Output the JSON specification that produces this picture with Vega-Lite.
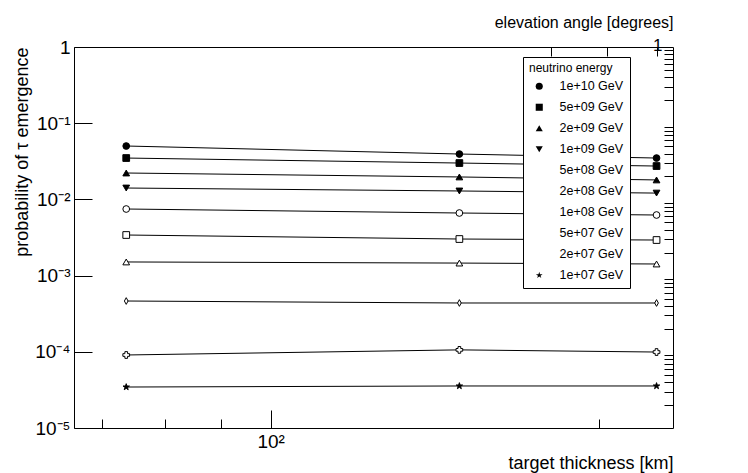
{
  "$schema": "https://vega.github.io/schema/vega-lite/v6.json",
  "width": 599,
  "height": 381,
  "autosize": {"type": "none"},
  "padding": {"left": 74, "top": 47, "right": 75, "bottom": 45},
  "background": "white",
  "config": {
    "font": "Liberation Sans",
    "view": {"stroke": "black", "strokeWidth": 1},
    "axis": {"grid": false, "domainColor": "black", "tickColor": "black", "labelColor": "black", "titleColor": "black", "labelFont": "Liberation Sans", "titleFont": "Liberation Sans", "titleFontWeight": "normal", "labelFontSize": 17, "titleFontSize": 18}
  },
  "datasets": {
    "prob": [
      {"energy": "1e+10 GeV", "thickness": 73.7, "p": 0.0502},
      {"energy": "1e+10 GeV", "thickness": 149, "p": 0.0394},
      {"energy": "1e+10 GeV", "thickness": 226, "p": 0.0349},
      {"energy": "5e+09 GeV", "thickness": 73.7, "p": 0.0349},
      {"energy": "5e+09 GeV", "thickness": 149, "p": 0.030},
      {"energy": "5e+09 GeV", "thickness": 226, "p": 0.0274},
      {"energy": "2e+09 GeV", "thickness": 73.7, "p": 0.0222},
      {"energy": "2e+09 GeV", "thickness": 149, "p": 0.0197},
      {"energy": "2e+09 GeV", "thickness": 226, "p": 0.0180},
      {"energy": "1e+09 GeV", "thickness": 73.7, "p": 0.0141},
      {"energy": "1e+09 GeV", "thickness": 149, "p": 0.0129},
      {"energy": "1e+09 GeV", "thickness": 226, "p": 0.0121},
      {"energy": "5e+08 GeV", "thickness": 73.7, "p": 0.00748},
      {"energy": "5e+08 GeV", "thickness": 149, "p": 0.00663},
      {"energy": "5e+08 GeV", "thickness": 226, "p": 0.00624},
      {"energy": "2e+08 GeV", "thickness": 73.7, "p": 0.00341},
      {"energy": "2e+08 GeV", "thickness": 149, "p": 0.00302},
      {"energy": "2e+08 GeV", "thickness": 226, "p": 0.00293},
      {"energy": "1e+08 GeV", "thickness": 73.7, "p": 0.00151},
      {"energy": "1e+08 GeV", "thickness": 149, "p": 0.00146},
      {"energy": "1e+08 GeV", "thickness": 226, "p": 0.00142},
      {"energy": "5e+07 GeV", "thickness": 73.7, "p": 0.000464},
      {"energy": "5e+07 GeV", "thickness": 149, "p": 0.000437},
      {"energy": "5e+07 GeV", "thickness": 226, "p": 0.000437},
      {"energy": "2e+07 GeV", "thickness": 73.7, "p": 0.0000908},
      {"energy": "2e+07 GeV", "thickness": 149, "p": 0.000106},
      {"energy": "2e+07 GeV", "thickness": 226, "p": 0.0000993},
      {"energy": "1e+07 GeV", "thickness": 73.7, "p": 0.0000345},
      {"energy": "1e+07 GeV", "thickness": 149, "p": 0.0000356},
      {"energy": "1e+07 GeV", "thickness": 226, "p": 0.0000356}
    ]
  },
  "layer": [
    {
      "data": {"name": "prob"},
      "mark": {"type": "line", "color": "black", "strokeWidth": 1},
      "encoding": {
        "x": {"field": "thickness", "type": "quantitative", "scale": {"type": "log", "domain": [66, 234], "nice": false},
          "axis": {"orient": "bottom", "values": [100], "labelExpr": "'10²'", "tickSize": -18, "labelPadding": 22, "labelFontSize": 19, "domain": false,
            "title": "target thickness [km]", "titleAnchor": "end", "titlePadding": 3}},
        "y": {"field": "p", "type": "quantitative", "scale": {"type": "log", "domain": [0.00001, 1], "nice": false},
          "axis": {"values": [0.00001, 0.0001, 0.001, 0.01, 0.1, 1], "labelExpr": "datum.value >= 1 ? '1' : datum.value > 0.05 ? '10⁻¹' : datum.value > 0.005 ? '10⁻²' : datum.value > 0.0005 ? '10⁻³' : datum.value > 0.00005 ? '10⁻⁴' : '10⁻⁵'",
            "tickSize": -18, "labelPadding": 22, "labelFontSize": 19, "domain": false,
            "title": "probability of τ emergence", "titleX": -52, "titleY": 0, "titleAngle": -90, "titleAlign": "right", "titleBaseline": "middle"}},
        "detail": {"field": "energy"}
      }
    },
    {
      "data": {"name": "prob"},
      "mark": {"type": "point", "strokeWidth": 1, "opacity": 1, "size": 45},
      "encoding": {
        "x": {"field": "thickness", "type": "quantitative", "scale": {"type": "log", "domain": [66, 234], "nice": false}, "axis": null},
        "y": {"field": "p", "type": "quantitative", "scale": {"type": "log", "domain": [0.00001, 1], "nice": false}, "axis": null},
        "stroke": {"value": "black"},
        "shape": {"field": "energy", "type": "nominal",
          "scale": {"domain": ["1e+10 GeV", "5e+09 GeV", "2e+09 GeV", "1e+09 GeV", "5e+08 GeV", "2e+08 GeV", "1e+08 GeV", "5e+07 GeV", "2e+07 GeV", "1e+07 GeV"],
            "range": ["circle", "square", "triangle-up", "triangle-down", "circle", "square", "triangle-up", "M0,-1L0.55,0L0,1L-0.55,0Z", "cross", "M0,-1L0.22,-0.3L0.95,-0.3L0.36,0.12L0.59,0.81L0,0.38L-0.59,0.81L-0.36,0.12L-0.95,-0.3L-0.22,-0.3Z"]},
          "legend": {"title": "neutrino energy", "orient": "none", "legendX": 449, "legendY": 10, "zindex": 1, "fillColor": "white", "strokeColor": "black", "padding": 6,
            "titleFontSize": 12, "titleFontWeight": "normal", "titleColor": "black", "labelFontSize": 12.5, "labelColor": "black", "rowPadding": 8, "symbolSize": 50, "symbolOffset": 4, "labelOffset": 14, "symbolStrokeColor": "black", "symbolStrokeWidth": 1}},
        "fill": {"field": "energy", "type": "nominal",
          "scale": {"domain": ["1e+10 GeV", "5e+09 GeV", "2e+09 GeV", "1e+09 GeV", "5e+08 GeV", "2e+08 GeV", "1e+08 GeV", "5e+07 GeV", "2e+07 GeV", "1e+07 GeV"],
            "range": ["black", "black", "black", "black", "white", "white", "white", "white", "white", "black"]},
          "legend": {"title": "neutrino energy", "orient": "none", "legendX": 449, "legendY": 10, "zindex": 1}}
      }
    },
    {
      "data": {"name": "prob"},
      "mark": {"type": "point", "opacity": 0},
      "encoding": {
        "x": {"field": "thickness", "type": "quantitative", "scale": {"type": "log", "domain": [66, 234], "nice": false},
          "axis": {"orient": "bottom", "values": [70, 80, 90, 200], "labels": false, "tickSize": -9, "domain": false, "title": null}},
        "y": {"field": "p", "type": "quantitative", "scale": {"type": "log", "domain": [0.00001, 1], "nice": false},
          "axis": {"values": [0.00002, 0.00003, 0.00004, 0.00005, 0.00006, 0.00007, 0.00008, 0.00009, 0.0002, 0.0003, 0.0004, 0.0005, 0.0006, 0.0007, 0.0008, 0.0009, 0.002, 0.003, 0.004, 0.005, 0.006, 0.007, 0.008, 0.009, 0.02, 0.03, 0.04, 0.05, 0.06, 0.07, 0.08, 0.09, 0.2, 0.3, 0.4, 0.5, 0.6, 0.7, 0.8, 0.9],
            "labels": false, "tickSize": -9, "domain": false, "title": null}}
      }
    },
    {
      "data": {"values": [{"angle": 0.5}]},
      "mark": {"type": "point", "opacity": 0},
      "encoding": {
        "x": {"field": "angle", "type": "quantitative", "scale": {"type": "log", "domain": [0.292, 1.034], "nice": false},
          "axis": {"orient": "top", "values": [0.8, 0.9, 1], "labelExpr": "datum.value == 1 ? '1' : ''", "tickSize": -9, "labelPadding": 2, "domain": false,
            "title": "elevation angle [degrees]", "titleAnchor": "end", "titleFontSize": 16, "titlePadding": 6}}
      }
    }
  ],
  "resolve": {"scale": {"x": "independent", "y": "independent"}, "axis": {"x": "independent", "y": "independent"}}
}
